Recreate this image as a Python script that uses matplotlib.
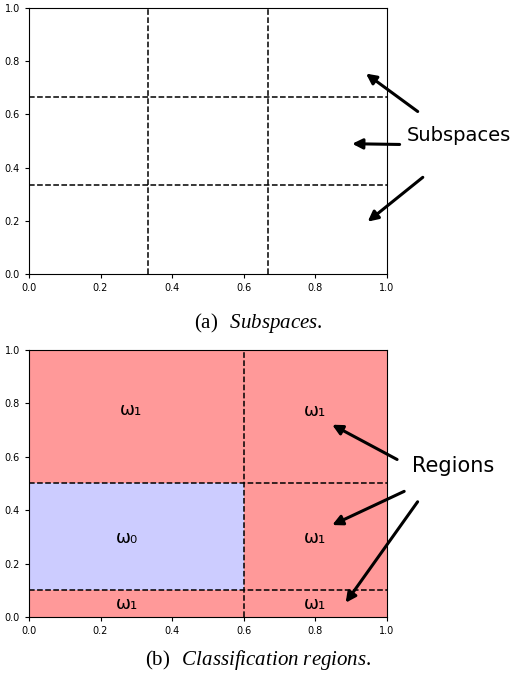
import matplotlib
matplotlib.use("Agg")
import matplotlib.pyplot as plt
from matplotlib.patches import Rectangle

# === Data ===
grid_lines = [1 / 3, 2 / 3]          # subspace boundaries (both axes)
split_x = [0.6]                      # classification boundaries
split_y = [0.1, 0.5]

# regions: (x0, y0, width, height, class)
regions = [
    (0.0, 0.5, 1.0, 0.5, 1),
    (0.0, 0.1, 0.6, 0.4, 0),
    (0.6, 0.1, 0.4, 0.4, 1),
    (0.0, 0.0, 1.0, 0.1, 1),
]
region_labels = [
    (0.285, 0.775, "ω₁"),
    (0.80, 0.77, "ω₁"),
    (0.275, 0.295, "ω₀"),
    (0.80, 0.295, "ω₁"),
    (0.275, 0.05, "ω₁"),
    (0.80, 0.05, "ω₁"),
]
class_colors = {0: "#ccccff", 1: "#ff9999"}
ticks = [0.0, 0.2, 0.4, 0.6, 0.8, 1.0]

plt.rcParams["mathtext.fontset"] = "custom"
plt.rcParams["mathtext.rm"] = "Liberation Serif"
plt.rcParams["mathtext.it"] = "Liberation Serif:italic"

fig = plt.figure(figsize=(5.16, 6.83), dpi=100)
ax1 = fig.add_axes([0.056, 0.599, 0.694, 0.389])
ax2 = fig.add_axes([0.056, 0.0966, 0.694, 0.391])

dash = dict(color="black", linestyle="--", linewidth=1.1)
arrow = dict(arrowstyle="-|>,head_length=0.6,head_width=0.3", color="black", lw=2.2)

# --- (a) subspaces ---
for g in grid_lines:
    ax1.axvline(g, **dash)
    ax1.axhline(g, **dash)

ax1.text(1.055, 0.52, "Subspaces", fontsize=14, va="center", ha="left", clip_on=False)
ax1.annotate("", xy=(0.935, 0.76), xytext=(1.092, 0.605), arrowprops=arrow,
             annotation_clip=False)
ax1.annotate("", xy=(0.895, 0.49), xytext=(1.043, 0.487), arrowprops=arrow,
             annotation_clip=False)
ax1.annotate("", xy=(0.94, 0.19), xytext=(1.106, 0.37), arrowprops=arrow,
             annotation_clip=False)

# --- (b) classification regions ---
for x0, y0, w, h, c in regions:
    ax2.add_patch(Rectangle((x0, y0), w, h, facecolor=class_colors[c],
                            edgecolor="none", zorder=0))
for x in split_x:
    ax2.axvline(x, **dash)
for y in split_y:
    ax2.axhline(y, **dash)
for x, y, s in region_labels:
    ax2.text(x, y, s, fontsize=13, ha="center", va="center")

ax2.text(1.07, 0.565, "Regions", fontsize=15, va="center", ha="left", clip_on=False)
ax2.annotate("", xy=(0.84, 0.725), xytext=(1.035, 0.585), arrowprops=arrow,
             annotation_clip=False)
ax2.annotate("", xy=(0.84, 0.34), xytext=(1.055, 0.475), arrowprops=arrow,
             annotation_clip=False)
ax2.annotate("", xy=(0.88, 0.045), xytext=(1.09, 0.44), arrowprops=arrow,
             annotation_clip=False)

for ax in (ax1, ax2):
    ax.set_xlim(0, 1)
    ax.set_ylim(0, 1)
    ax.set_xticks(ticks)
    ax.set_yticks(ticks)
    ax.tick_params(labelsize=7, length=3)

fig.text(0.5, 0.527, r"(a)$\;\;\;\mathit{Subspaces}$.", fontsize=15,
         family="Liberation Serif", ha="center", va="center")
fig.text(0.5, 0.034, r"(b)$\;\;\;\mathit{Classification\ regions}$.", fontsize=15,
         family="Liberation Serif", ha="center", va="center")

fig.savefig("out.png", dpi=100)
